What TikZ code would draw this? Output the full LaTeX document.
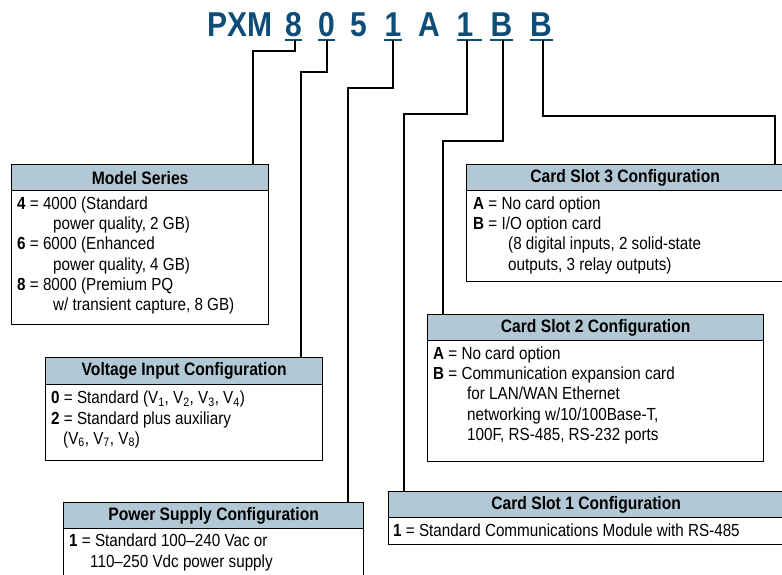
\documentclass[tikz,border=0pt]{standalone}
\usepackage{fontspec}
\setmainfont[FakeStretch=0.87]{Liberation Sans}
\definecolor{hdrfill}{RGB}{178,201,213}
\definecolor{ttlblue}{RGB}{14,77,120}
\begin{document}
\begin{tikzpicture}[x=1pt,y=-1pt,
 hdr/.style={draw=black,line width=1.3pt,fill=hdrfill,inner sep=0,anchor=north west,minimum height=26pt,font=\fontsize{18}{18}\selectfont\bfseries},
 bodyframe/.style={draw=black,line width=1.3pt,fill=white,inner sep=0,anchor=north west},
 txt/.style={inner sep=0,anchor=base west,font=\fontsize{17.5}{17.5}\selectfont},
 ttl/.style={inner sep=0,anchor=base,text=ttlblue,font=\fontsize{34.5}{34.5}\selectfont\bfseries},
 uline/.style={draw=ttlblue,line width=1.8pt},
 conn/.style={draw=black,line width=2.2pt,line join=miter}]
\clip (0,0) rectangle (782,575);
\fill[white] (0,0) rectangle (782,575);

% title
\node[ttl,anchor=base west] (tp) at (207,37) {PXM};
\node[ttl] (t8) at (293.5,37) {8};
\node[ttl] (t0) at (326.5,37) {0};
\node[ttl] (t5) at (358.5,37) {5};
\node[ttl] (t1) at (393,37) {1};
\node[ttl] (tA) at (429,37) {A};
\node[ttl] (t1b) at (465,37) {1};
\node[ttl] (tB) at (501.5,37) {B};
\node[ttl] (tBb) at (541,37) {B};
\draw[uline] (285,40) -- (302,40);
\draw[uline] (318,40) -- (335,40);
\draw[uline] (384,40) -- (402,40);
\draw[uline] (457,40) -- (482,40);
\draw[uline] (490,40) -- (513,40);
\draw[uline] (530,40) -- (553,40);
\coordinate (k8) at (295,40);
\coordinate (k0) at (327,40);
\coordinate (k1) at (393,40);
\coordinate (k1b) at (467,40);
\coordinate (kB) at (503,40);
\coordinate (kBb) at (543,40);

% Model Series
\node[bodyframe,minimum width=257pt,minimum height=134pt] (msb) at (11,190) {};
\node[hdr,minimum width=257pt] (msh) at (11,164) {Model Series};
\node[txt] (ms1) at (17,209.5) {\textbf{4} = 4000 (Standard};
\node[txt] (ms2) at (53,229.7) {power quality, 2 GB)};
\node[txt] (ms3) at (17,249.9) {\textbf{6} = 6000 (Enhanced};
\node[txt] (ms4) at (53,270.1) {power quality, 4 GB)};
\node[txt] (ms5) at (17,290.3) {\textbf{8} = 8000 (Premium PQ};
\node[txt] (ms6) at (53,310.5) {w/ transient capture, 8 GB)};

% Voltage
\node[bodyframe,minimum width=277pt,minimum height=76pt] (vib) at (45,384) {};
\node[hdr,minimum width=277pt,minimum height=27pt] (vih) at (45,357) {Voltage Input Configuration};
\node[txt] (vi1) at (51,403.5) {\textbf{0} = Standard (V\textsubscript{1}, V\textsubscript{2}, V\textsubscript{3}, V\textsubscript{4})};
\node[txt] (vi2) at (51,424) {\textbf{2} = Standard plus auxiliary};
\node[txt] (vi3) at (63,444) {(V\textsubscript{6}, V\textsubscript{7}, V\textsubscript{8})};

% Power supply
\node[bodyframe,minimum width=300pt,minimum height=80pt] (psb) at (63,528) {};
\node[hdr,minimum width=300pt] (psh) at (63,502) {Power Supply Configuration};
\node[txt] (ps1) at (69,546.5) {\textbf{1} = Standard 100–240 Vac or};
\node[txt] (ps2) at (90,567) {110–250 Vdc power supply};

% Card slot 3
\node[bodyframe,minimum width=317pt,minimum height=91pt] (s3b) at (466,190) {};
\node[hdr,minimum width=317pt] (s3h) at (466,164) {Card Slot 3 Configuration};
\node[txt] (s31) at (473,209.5) {\textbf{A} = No card option};
\node[txt] (s32) at (473,229.7) {\textbf{B} = I/O option card};
\node[txt] (s33) at (508,249.9) {(8 digital inputs, 2 solid-state};
\node[txt] (s34) at (508,270.1) {outputs, 3 relay outputs)};

% Card slot 2
\node[bodyframe,minimum width=336pt,minimum height=121pt] (s2b) at (427,340) {};
\node[hdr,minimum width=336pt] (s2h) at (427,314) {Card Slot 2 Configuration};
\node[txt] (s21) at (433,359.5) {\textbf{A} = No card option};
\node[txt] (s22) at (433,379.7) {\textbf{B} = Communication expansion card};
\node[txt] (s23) at (467,399.9) {for LAN/WAN Ethernet};
\node[txt] (s24) at (467,420.1) {networking w/10/100Base-T,};
\node[txt] (s25) at (467,440.3) {100F, RS-485, RS-232 ports};

% Card slot 1
\node[bodyframe,minimum width=395pt,minimum height=27pt] (s1b) at (388,517) {};
\node[hdr,minimum width=395pt] (s1h) at (388,491) {Card Slot 1 Configuration};
\node[txt] (s11) at (393,536) {\textbf{1} = Standard Communications Module with RS-485};

% connectors
\draw[conn] (k8) -- ++(0,11) -| ([xshift=242pt]msh.north west);
\draw[conn] (k0) -- ++(0,32) -| ([xshift=256pt]vih.north west);
\draw[conn] (k1) -- ++(0,48) -| ([xshift=285pt]psh.north west);
\draw[conn] (k1b) -- ++(0,74) -| ([xshift=16pt]s1h.north west);
\draw[conn] (kB) -- ++(0,101) -| ([xshift=16pt]s2h.north west);
\draw[conn] (kBb) -- ++(0,76) -| ([xshift=309pt]s3h.north west);
\end{tikzpicture}
\end{document}
